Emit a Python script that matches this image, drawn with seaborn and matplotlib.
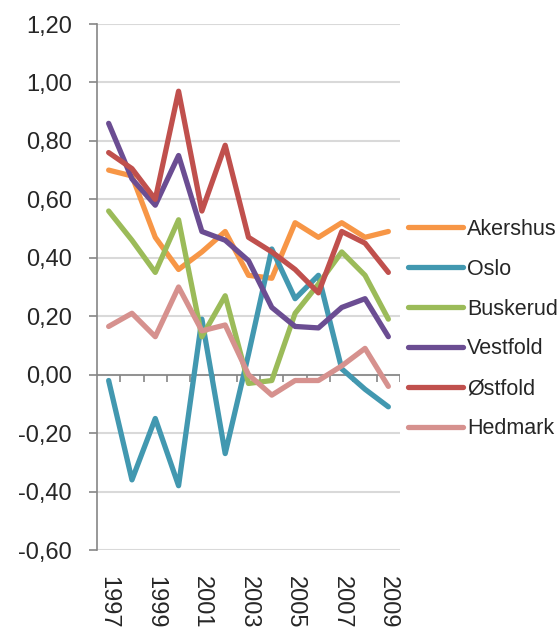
import matplotlib
matplotlib.use("Agg")
import matplotlib.pyplot as plt
import numpy as np
import pandas as pd
import seaborn as sns

# data
years = list(range(1997, 2010))
akershus = [0.70, 0.68, 0.47, 0.36, 0.42, 0.49, 0.34, 0.33, 0.52, 0.47, 0.52, 0.47, 0.49]
oslo = [-0.02, -0.36, -0.15, -0.38, 0.19, -0.27, 0.07, 0.43, 0.26, 0.34, 0.02, -0.05, -0.11]
buskerud = [0.56, 0.46, 0.35, 0.53, 0.13, 0.27, -0.03, -0.02, 0.21, 0.31, 0.42, 0.34, 0.19]
vestfold = [0.86, 0.67, 0.58, 0.75, 0.49, 0.46, 0.39, 0.23, 0.165, 0.16, 0.23, 0.26, 0.13]
ostfold = [0.76, 0.705, 0.60, 0.97, 0.56, 0.785, 0.47, 0.42, 0.36, 0.28, 0.49, 0.45, 0.35]
hedmark = [0.165, 0.21, 0.13, 0.30, 0.15, 0.17, 0.0, -0.07, -0.02, -0.02, 0.03, 0.09, -0.04]

names = ["Akershus", "Oslo", "Buskerud", "Vestfold", "Østfold", "Hedmark"]
series = [akershus, oslo, buskerud, vestfold, ostfold, hedmark]
colors = ["#F79646", "#4298B0", "#9BBB59", "#6B4D92", "#C0504D", "#D6918E"]

df = pd.DataFrame({
    "year": years * len(names),
    "value": np.concatenate(series),
    "county": np.repeat(names, len(years)),
})

sns.set_style("white")
plt.rcParams["font.family"] = ["Liberation Sans", "DejaVu Sans"]

fig = plt.figure(figsize=(5.6, 6.31), dpi=100)
ax = fig.add_axes([97 / 560, 81 / 631, 303 / 560, 526 / 631])

sns.lineplot(data=df, x="year", y="value", hue="county", hue_order=names,
             palette=colors, linewidth=3.8, ax=ax, zorder=3,
             solid_capstyle="round", solid_joinstyle="round")

ax.set_xlim(1996.5, 2009.5)
ax.set_ylim(-0.6, 1.2)
yt = np.arange(-0.6, 1.21, 0.2)
ax.set_yticks(yt)
ax.set_yticklabels([f"{v:.2f}".replace(".", ",").replace("-0,00", "0,00") for v in yt])
ax.yaxis.grid(True, color="#D9D9D9", linewidth=1.5)
ax.set_axisbelow(True)

ax.set_xticks(years[::2])
ax.set_xticklabels([str(y) for y in years[::2]], rotation=-90, va="top", ha="center")
ax.tick_params(axis="x", length=0, pad=19, labelsize=17)
ax.tick_params(axis="y", length=5.5, width=1.2, color="#868686", pad=12.5,
               labelsize=17, left=True)

for s in ["top", "right", "bottom"]:
    ax.spines[s].set_visible(False)
ax.spines["left"].set_color("#868686")
ax.spines["left"].set_linewidth(1.2)

# category axis crossing at zero, with ticks between the categories
ax.axhline(0, color="#868686", linewidth=1.2, zorder=2)
ax.vlines(np.arange(1997.5, 2009.6, 1.0), -0.026, 0, color="#868686",
          linewidth=1.2, zorder=2)

ax.set_xlabel("")
ax.set_ylabel("")

handles, labels = ax.get_legend_handles_labels()
ax.legend(handles, labels, loc="center left",
          bbox_to_anchor=(408 / 560, 1 - 329 / 631),
          bbox_transform=fig.transFigure, frameon=False, fontsize=15.5,
          handlelength=2.55, handletextpad=0.2, labelspacing=0.88,
          borderpad=0, borderaxespad=0)

fig.savefig("out.png", dpi=100)
